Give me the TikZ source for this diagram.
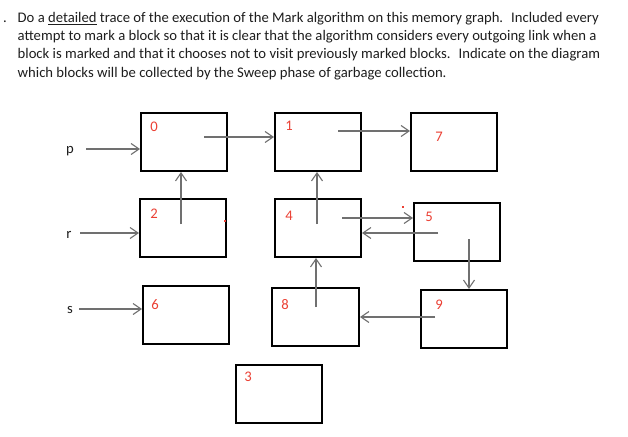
\documentclass[tikz,border=0pt]{standalone}
\usepackage{fontspec}
\setmainfont{Carlito}
\usetikzlibrary{arrows.meta}
\definecolor{numred}{RGB}{235,64,52}
\definecolor{ptrgray}{RGB}{112,112,112}
\definecolor{txt}{RGB}{30,30,30}
\begin{document}
\begin{tikzpicture}[x=1pt,y=-1pt,
  box/.style={draw=black,line width=2pt,minimum width=86pt,minimum height=58pt,inner sep=0pt},
  num/.style={text=numred,inner sep=0pt,font=\fontsize{14.67}{18}\selectfont},
  var/.style={text=txt,inner sep=0pt,anchor=base,font=\fontsize{14.67}{18}\selectfont},
  para/.style={text=txt,inner sep=0pt,anchor=base west,font=\fontsize{14.67}{18}\selectfont},
  ptr/.style={draw=ptrgray,line width=1.4pt,-{Straight Barb[length=8pt,width=11pt,line width=1.1pt]}},
  ]
\useasboundingbox (0,0) rectangle (628,436);
\fill[white] (0,0) rectangle (628,436);
% paragraph
\node[para] (dot) at (3,23) {.};
\node[para] (l1) at (17.5,23) {Do a \underline{detailed} trace of the execution of the Mark algorithm on this memory graph.\hspace{0.25em} Included every};
\node[para] (l2) at (17.5,41) {attempt to mark a block so that it is clear that the algorithm considers every outgoing link when a};
\node[para] (l3) at (17.5,59) {block is marked and that it chooses not to visit previously marked blocks.\hspace{0.25em} Indicate on the diagram};
\node[para] (l4) at (17.5,77) {which blocks will be collected by the Sweep phase of garbage collection.};
% boxes
\node[box] (b0) at (184,142) {};
\node[box] (b1) at (318,142) {};
\node[box] (b7) at (454,142) {};
\node[box] (b2) at (183,227.5) {};
\node[box] (b4) at (318,228) {};
\node[box] (b5) at (457,232) {};
\node[box] (b6) at (186,314.5) {};
\node[box,minimum width=87pt] (b8) at (315.5,317) {};
\node[box] (b9) at (464,319) {};
\node[box] (b3) at (279,394) {};
% numbers
\node[num] (n0) at (154,127) {0};
\node[num] (n1) at (289,126) {1};
\node[num] (n7) at (439,137) {7};
\node[num] (n2) at (154,214) {2};
\node[num] (n4) at (289,216) {4};
\node[num] (n5) at (429,217) {5};
\node[num] (n6) at (155,305) {6};
\node[num] (n8) at (285,305) {8};
\node[num] (n9) at (439,305) {9};
\node[num] (n3) at (248,377) {3};
% variables
\node[var] (p) at (70,153) {p};
\node[var] (r) at (69,238) {r};
\node[var] (s) at (70,313) {s};
% pointer start points
\coordinate (sp) at (86,149);
\coordinate (sr) at (80,233);
\coordinate (ss) at (79,309);
\coordinate (s01) at (204,137);
\coordinate (s17) at (338,131);
\coordinate (s20) at (181,224);
\coordinate (s41) at (317,224);
\coordinate (s45) at (342,218);
\coordinate (s54) at (438,233);
\coordinate (s59) at (469,239);
\coordinate (s84) at (316,307);
\coordinate (s98) at (435,317);
% pointers
\draw[ptr] (sp) -- (sp -| b0.west);
\draw[ptr] (sr) -- (sr -| b2.west);
\draw[ptr] (ss) -- (ss -| b6.west);
\draw[ptr] (s01) -- (s01 -| b1.west);
\draw[ptr] (s17) -- (s17 -| b7.west);
\draw[ptr] (s20) -- (s20 |- b0.south);
\draw[ptr] (s41) -- (s41 |- b1.south);
\draw[ptr] (s45) -- (s45 -| b5.west);
\draw[ptr] (s54) -- (s54 -| b4.east);
\draw[ptr] (s59) -- (s59 |- b9.north);
\draw[ptr] (s84) -- (s84 |- b4.south);
\draw[ptr] (s98) -- (s98 -| b8.east);
% small red marks
\fill[numred] (223.5,220) rectangle (226,222);
\fill[numred] (402,206) rectangle (404,208);
\end{tikzpicture}
\end{document}
